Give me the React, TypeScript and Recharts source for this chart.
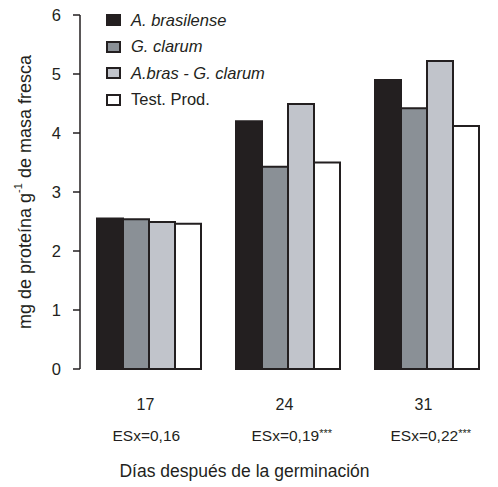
import React from 'react';
import { BarChart, Bar, XAxis, YAxis, Legend, Label } from 'recharts';

// días después de la germinación
const categories = ['17', '24', '31'];
const esLabels = ['ESx=0,16', 'ESx=0,19', 'ESx=0,22'];
const esStars = ['', '***', '***'];

// mg de proteína g-1 de masa fresca
const brasilense = [2.55, 4.2, 4.9];
const clarum = [2.54, 3.43, 4.42];
const brasClarum = [2.49, 4.49, 5.22];
const testProd = [2.46, 3.5, 4.12];

const yTicks = [0, 1, 2, 3, 4, 5, 6];
const edgeTicks = [0, 1, 2, 3];

const INK = '#231f20';
const FONT = '"Liberation Sans", Arial, sans-serif';

const series = [
    { key: 'brasilense', name: 'A. brasilense', fill: INK, italic: true },
    { key: 'clarum', name: 'G. clarum', fill: '#8a9096', italic: true },
    { key: 'brasClarum', name: 'A.bras - G. clarum', fill: '#c1c4cb', italic: true },
    { key: 'testProd', name: 'Test. Prod.', fill: '#ffffff', italic: false },
];

const data = categories.map((c, i) => ({
    dia: c,
    brasilense: brasilense[i],
    clarum: clarum[i],
    brasClarum: brasClarum[i],
    testProd: testProd[i],
}));

const DayTick = (props: any) => {
    const { x, y, index } = props;
    return (
        <g>
            <text x={x - 4} y={y + 33} textAnchor="middle" fontSize={16} fill={INK} fontFamily={FONT}>
                {categories[index]}
            </text>
            <text x={x - 37} y={y + 64} textAnchor="start" fontSize={15.5} fill={INK} fontFamily={FONT}>
                {esLabels[index]}
                {esStars[index] && (
                    <tspan fontSize={11} dy={-4}>{esStars[index]}</tspan>
                )}
            </text>
        </g>
    );
};

const LegendBox = () => (
    <div style={{ fontFamily: FONT, fontSize: 16.5, color: INK }}>
        {series.map((s) => (
            <div key={s.key} style={{ display: 'flex', alignItems: 'center', height: 26.5 }}>
                <span
                    style={{
                        display: 'inline-block',
                        width: 11,
                        height: 8,
                        background: s.fill,
                        border: `2px solid ${INK}`,
                        marginRight: 10,
                    }}
                />
                <span style={{ fontStyle: s.italic ? 'italic' : 'normal' }}>{s.name}</span>
            </div>
        ))}
    </div>
);

const YTitle = (props: any) => {
    const { viewBox } = props;
    const cx = 25;
    const cy = viewBox.y + viewBox.height / 2;
    return (
        <text
            x={cx}
            y={cy}
            transform={`rotate(-90, ${cx}, ${cy})`}
            textAnchor="middle"
            dominantBaseline="central"
            fontSize={18}
            fill={INK}
            fontFamily={FONT}
        >
            mg de proteína g
            <tspan fontSize={11} dy={-7}>-1</tspan>
            <tspan dy={7}> de masa fresca</tspan>
        </text>
    );
};

const XTitle = (props: any) => {
    const { viewBox } = props;
    return (
        <text
            x={viewBox.x + viewBox.width / 2 - 44}
            y={viewBox.y + 108}
            textAnchor="middle"
            fontSize={17.5}
            fill={INK}
            fontFamily={FONT}
        >
            Días después de la germinación
        </text>
    );
};

export default function App() {
    return (
        <div style={{ position: 'absolute', left: 0, top: 0, background: '#fff' }}>
            <BarChart
                width={498}
                height={487}
                data={data}
                margin={{ top: 15, right: 1, bottom: 0, left: 0 }}
                barCategoryGap={17}
                barGap={0}
            >
                <XAxis
                    xAxisId="edge"
                    type="number"
                    domain={[0, 3]}
                    ticks={edgeTicks}
                    allowDataOverflow
                    tick={false}
                    tickSize={8}
                    height={0}
                    stroke={INK}
                    strokeWidth={1.5}
                />
                <XAxis
                    dataKey="dia"
                    axisLine={false}
                    tickLine={false}
                    height={118}
                    interval={0}
                    tick={<DayTick />}
                >
                    <Label content={<XTitle />} />
                </XAxis>
                <YAxis
                    width={80}
                    domain={[0, 6]}
                    ticks={yTicks}
                    interval={0}
                    tickSize={7}
                    tickMargin={12}
                    stroke={INK}
                    strokeWidth={1.5}
                    tick={{ fontSize: 16.5, fill: INK, fontFamily: FONT }}
                >
                    <Label content={<YTitle />} />
                </YAxis>
                {/* centre/middle keeps the legend from taking room off the plot */}
                <Legend
                    layout="vertical"
                    verticalAlign="middle"
                    align="center"
                    content={<LegendBox />}
                    wrapperStyle={{ left: 106, top: 7, width: 250 }}
                />
                {series.map((s) => (
                    <Bar
                        key={s.key}
                        dataKey={s.key}
                        name={s.name}
                        fill={s.fill}
                        stroke={INK}
                        strokeWidth={2}
                        isAnimationActive={false}
                    />
                ))}
            </BarChart>
        </div>
    );
}
